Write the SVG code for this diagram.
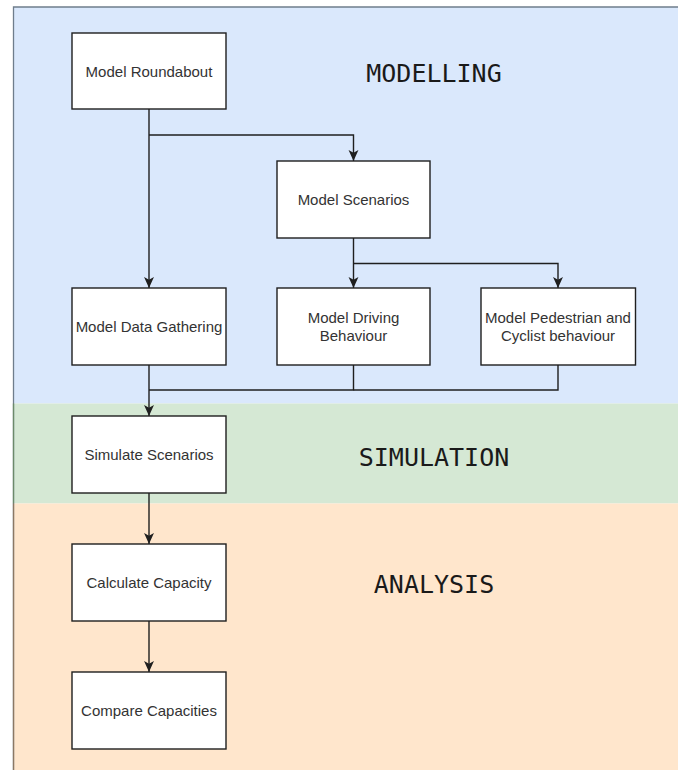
<svg xmlns="http://www.w3.org/2000/svg" width="678" height="770" viewBox="0 0 678 770">
<style>
.box{fill:#ffffff;stroke:#1f1f1f;stroke-width:1.4}
.lbl{font-family:"Liberation Sans",Arial,sans-serif;font-size:15px;fill:#333333;text-anchor:middle}
.sec{font-family:"DejaVu Sans Mono","Liberation Mono",monospace;font-size:25px;fill:#1a1a1a;text-anchor:middle}
.con{fill:none;stroke:#1f1f1f;stroke-width:1.4}
</style>
<defs>
<marker id="arr" viewBox="0 0 10 10" refX="10" refY="5" markerWidth="11" markerHeight="11" markerUnits="userSpaceOnUse" orient="auto">
<path d="M0,0.5 L10,5 L0,9.5 L2.5,5 Z" fill="#1f1f1f"/>
</marker>
</defs>
<g id="bands">
<rect x="13.5" y="7" width="680" height="396.5" fill="#dae8fc"/>
<rect x="13.5" y="403.5" width="680" height="100" fill="#d5e8d4"/>
<rect x="13.5" y="503.5" width="680" height="280" fill="#ffe6cc"/>
<path d="M13.5,770 L13.5,7 L678,7" fill="none" stroke="#6f7d8c" stroke-width="1.3"/>
<line x1="13.5" y1="403.5" x2="13.5" y2="503.5" stroke="#6c8a6a" stroke-width="1.3"/>
<line x1="13.5" y1="503.5" x2="13.5" y2="770" stroke="#8c7864" stroke-width="1.3"/>
</g>
<g id="section-labels">
<text class="sec" x="434" y="82">MODELLING</text>
<text class="sec" x="434" y="465.5">SIMULATION</text>
<text class="sec" x="434" y="593">ANALYSIS</text>
</g>
<g id="connectors">
<path class="con" d="M149,109 L149,288" marker-end="url(#arr)"/>
<path class="con" d="M149,135 L353.5,135 L353.5,161" marker-end="url(#arr)"/>
<path class="con" d="M353.5,238 L353.5,288" marker-end="url(#arr)"/>
<path class="con" d="M353.5,263.5 L558,263.5 L558,288" marker-end="url(#arr)"/>
<path class="con" d="M149,365 L149,416" marker-end="url(#arr)"/>
<path class="con" d="M353.5,365 L353.5,390 L149,390"/>
<path class="con" d="M558,365 L558,390 L353.5,390"/>
<path class="con" d="M149,493 L149,544" marker-end="url(#arr)"/>
<path class="con" d="M149,621 L149,672" marker-end="url(#arr)"/>
</g>
<g id="model-roundabout">
<rect class="box" x="72" y="33" width="154" height="76"/>
<text class="lbl" x="149" y="76.5">Model Roundabout</text>
</g>
<g id="model-scenarios">
<rect class="box" x="277" y="161" width="153" height="77"/>
<text class="lbl" x="353.5" y="205">Model Scenarios</text>
</g>
<g id="model-data-gathering">
<rect class="box" x="72" y="288" width="154" height="77"/>
<text class="lbl" x="149" y="332">Model Data Gathering</text>
</g>
<g id="model-driving-behaviour">
<rect class="box" x="277" y="288" width="153" height="77"/>
<text class="lbl" x="353.5" y="322.5">Model Driving</text>
<text class="lbl" x="353.5" y="341">Behaviour</text>
</g>
<g id="model-pedestrian-cyclist">
<rect class="box" x="481" y="288" width="154.5" height="77"/>
<text class="lbl" x="558" y="322.5">Model Pedestrian and</text>
<text class="lbl" x="558" y="341">Cyclist behaviour</text>
</g>
<g id="simulate-scenarios">
<rect class="box" x="72" y="416" width="154" height="77"/>
<text class="lbl" x="149" y="459.5">Simulate Scenarios</text>
</g>
<g id="calculate-capacity">
<rect class="box" x="72" y="544" width="154" height="77"/>
<text class="lbl" x="149" y="587.5">Calculate Capacity</text>
</g>
<g id="compare-capacities">
<rect class="box" x="72" y="672" width="154" height="77"/>
<text class="lbl" x="149" y="715.5">Compare Capacities</text>
</g>
</svg>
